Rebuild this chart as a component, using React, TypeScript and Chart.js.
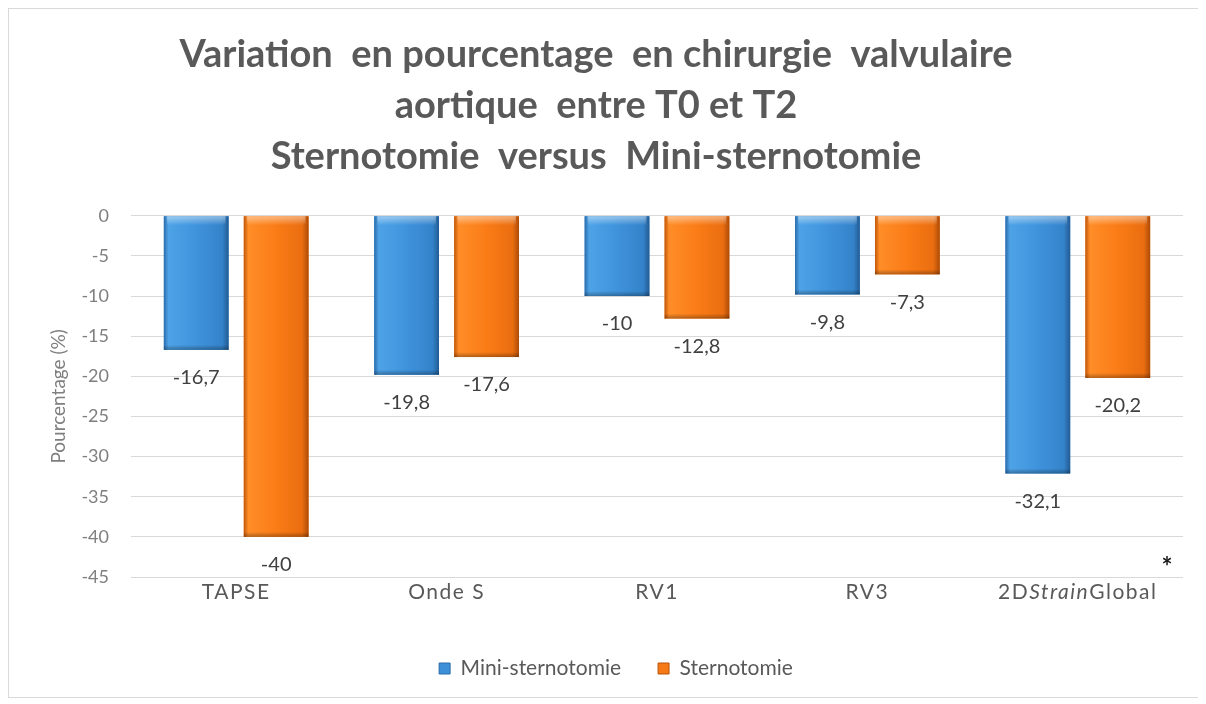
import { useEffect, useRef } from "react";
import { Chart, registerables } from "chart.js";

Chart.register(...registerables);

const categories = ["TAPSE", "Onde S", "RV1", "RV3", "2DStrainGlobal"];
const miniSternotomie = [-16.7, -19.8, -10, -9.8, -32.1];
const sternotomie = [-40, -17.6, -12.8, -7.3, -20.2];
const seriesNames = ["Mini-sternotomie", "Sternotomie"];
const titleLines = [
  "Variation  en pourcentage  en chirurgie  valvulaire",
  "aortique  entre T0 et T2",
  "Sternotomie  versus  Mini-sternotomie",
];
const yAxisTitle = "Pourcentage (%)";
const yMin = -45;
const yMax = 0;
const yStep = 5;
const significantIndex = 4;

const FONT = "Lato, 'Open Sans', sans-serif";

const blueStops: [number, string][] = [
  [0, "#2a6cab"],
  [0.07, "#4ea3e7"],
  [0.5, "#3f93db"],
  [0.9, "#3483ca"],
  [1, "#225b94"],
];
const orangeStops: [number, string][] = [
  [0, "#c0570b"],
  [0.07, "#ff8d28"],
  [0.5, "#fa7c17"],
  [0.9, "#ea6e10"],
  [1, "#ad4b08"],
];

const fmt = (v: number) => String(v).replace(".", ",");

const barPaintPlugin = {
  id: "barPaint",
  afterDatasetsDraw(chart: any) {
    const ctx = chart.ctx as CanvasRenderingContext2D;
    chart.data.datasets.forEach((ds: any, di: number) => {
      const meta = chart.getDatasetMeta(di);
      const stops = di === 0 ? blueStops : orangeStops;
      meta.data.forEach((el: any) => {
        const { x, y, base, width } = el.getProps(["x", "y", "base", "width"], true);
        const left = x - width / 2;
        const top = Math.min(y, base);
        const h = Math.abs(base - y);
        ctx.save();
        const g = ctx.createLinearGradient(left, 0, left + width, 0);
        stops.forEach(([o, c]) => g.addColorStop(o, c));
        ctx.fillStyle = g;
        ctx.fillRect(left, top, width, h);
        const gt = ctx.createLinearGradient(0, top, 0, top + 9);
        gt.addColorStop(0, "rgba(255,255,255,0.45)");
        gt.addColorStop(1, "rgba(255,255,255,0)");
        ctx.fillStyle = gt;
        ctx.fillRect(left + 3, top, width - 6, 9);
        const gb = ctx.createLinearGradient(0, top + h - 5, 0, top + h);
        gb.addColorStop(0, "rgba(0,0,0,0)");
        gb.addColorStop(1, "rgba(0,0,0,0.3)");
        ctx.fillStyle = gb;
        ctx.fillRect(left, top + h - 5, width, 5);
        ctx.restore();
      });
    });
  },
};

const labelPlugin = {
  id: "valueLabels",
  afterDatasetsDraw(chart: any) {
    const ctx = chart.ctx as CanvasRenderingContext2D;
    ctx.save();
    ctx.font = `20px ${FONT}`;
    ctx.fillStyle = "#404040";
    ctx.textAlign = "center";
    ctx.textBaseline = "middle";
    chart.data.datasets.forEach((ds: any, di: number) => {
      const meta = chart.getDatasetMeta(di);
      meta.data.forEach((el: any, i: number) => {
        const { x, y } = el.getProps(["x", "y"], true);
        ctx.fillText(fmt(ds.data[i]), x, y + 28);
      });
    });
    ctx.restore();
  },
};

// Category labels drawn at the x scale's own tick positions (mixed italic for "Strain")
const categoryLabelPlugin = {
  id: "categoryLabels",
  afterDraw(chart: any) {
    const ctx = chart.ctx as CanvasRenderingContext2D;
    const xs = chart.scales.x;
    const cy = xs.top + 3 + 12;
    ctx.save();
    ctx.fillStyle = "#595959";
    ctx.textBaseline = "middle";
    ctx.textAlign = "left";
    (ctx as any).letterSpacing = "1.5px";
    categories.forEach((label, idx) => {
      const cx = xs.getPixelForValue(idx);
      const parts: [string, string][] =
        idx === significantIndex
          ? [
              ["2D", "normal"],
              ["Strain", "italic"],
              ["Global", "normal"],
            ]
          : [[label, "normal"]];
      const widths = parts.map(([t, s]) => {
        ctx.font = `${s} 21px ${FONT}`;
        return ctx.measureText(t).width;
      });
      const total = widths.reduce((a, b) => a + b, 0);
      let x = cx - total / 2;
      parts.forEach(([t, s], i) => {
        ctx.font = `${s} 21px ${FONT}`;
        ctx.fillStyle = "#595959";
        ctx.fillText(t, x, cy);
        x += widths[i];
      });
      if (idx === significantIndex) {
        (ctx as any).letterSpacing = "0px";
        ctx.font = `bold 26px ${FONT}`;
        ctx.fillStyle = "#1a1a1a";
        ctx.fillText("*", x + 4, cy - 24);
        (ctx as any).letterSpacing = "1.5px";
      }
    });
    ctx.restore();
  },
};

const legendShiftPlugin = {
  id: "legendShift",
  afterLayout(chart: any) {
    const lg = chart.legend;
    if (lg) {
      lg.left += 20;
      lg.right += 20;
    }
  },
};

export default function App() {
  const ref = useRef<HTMLCanvasElement | null>(null);

  useEffect(() => {
    if (!ref.current) return;
    const chart = new Chart(ref.current, {
      type: "bar",
      data: {
        labels: categories,
        datasets: [
          {
            label: seriesNames[0],
            data: miniSternotomie,
            backgroundColor: "#3d90d8",
            borderColor: "#2a6aa8",
            borderWidth: 0,
            barPercentage: 0.81,
            categoryPercentage: 0.76,
          },
          {
            label: seriesNames[1],
            data: sternotomie,
            backgroundColor: "#f57a16",
            borderColor: "#b85208",
            borderWidth: 0,
            barPercentage: 0.81,
            categoryPercentage: 0.76,
          },
        ],
      },
      options: {
        responsive: false,
        animation: false,
        layout: { padding: { left: 0, right: 20, top: 0, bottom: 8 } },
        plugins: {
          title: {
            display: true,
            text: titleLines,
            color: "#595959",
            font: { family: FONT, size: 38, weight: "bold", lineHeight: 1.34 },
            padding: { top: 20, bottom: 34 },
          },
          legend: {
            display: true,
            position: "bottom",
            labels: {
              color: "#595959",
              font: { family: FONT, size: 21 },
              boxWidth: 11,
              boxHeight: 11,
              padding: 37,
              generateLabels: (c: any) =>
                c.data.datasets.map((ds: any, i: number) => ({
                  text: ds.label,
                  fillStyle: ds.backgroundColor,
                  strokeStyle: ds.borderColor,
                  lineWidth: 1,
                  fontColor: "#595959",
                  datasetIndex: i,
                  hidden: false,
                })),
            },
          },
          tooltip: { enabled: false },
        },
        scales: {
          x: {
            grid: { display: false, drawTicks: false },
            border: { display: false },
            ticks: {
              color: "rgba(0,0,0,0)",
              font: { family: FONT, size: 21 },
              padding: 3,
              maxRotation: 0,
            },
            afterFit: (s: any) => {
              s.height = 44;
            },
          },
          y: {
            min: yMin,
            max: yMax,
            grid: { color: "#d9d9d9", drawTicks: false },
            border: { display: false },
            ticks: {
              stepSize: yStep,
              color: "#7f7f7f",
              font: { family: FONT, size: 18 },
              padding: 22,
              callback: (v: any) => String(v),
            },
            title: {
              display: true,
              text: yAxisTitle,
              color: "#7f7f7f",
              font: { family: FONT, size: 19 },
              padding: { top: 38, bottom: 0 },
            },
            afterFit: (s: any) => {
              s.width = 122;
            },
          },
        },
      },
      plugins: [barPaintPlugin, labelPlugin, categoryLabelPlugin, legendShiftPlugin],
    });
    return () => chart.destroy();
  }, []);

  return (
    <div
      style={{
        width: 1196,
        height: 690,
        border: "1px solid #d9d9d9",
        boxSizing: "border-box",
        background: "#fff",
      }}
    >
      <canvas ref={ref} width={1194} height={688} style={{ display: "block" }} />
    </div>
  );
}
